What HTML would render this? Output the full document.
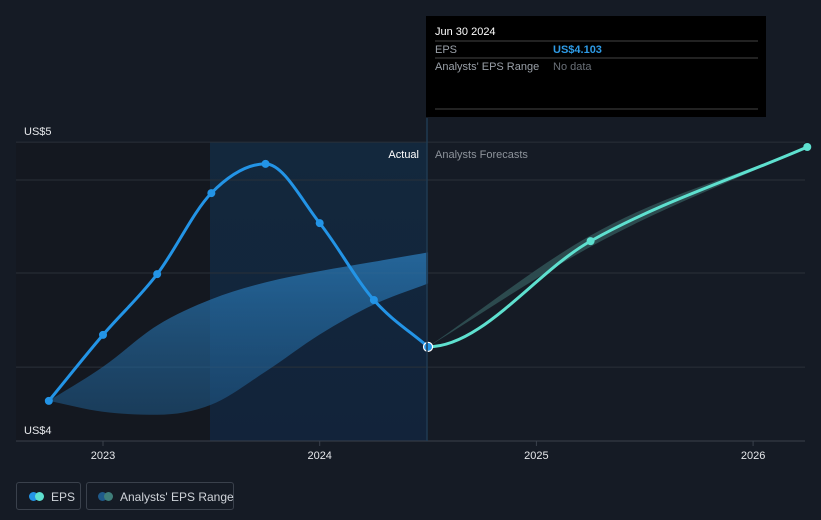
<!DOCTYPE html>
<html><head><meta charset="utf-8"><style>
html,body{margin:0;background:#151b25;width:821px;height:520px;overflow:hidden;font-family:"Liberation Sans",sans-serif}
svg{position:absolute;left:0;top:0}
.leg{position:absolute;top:482px;height:28px;border:1px solid #3a414c;border-radius:3px;color:#d0d4da;font-size:12px;line-height:26px;box-sizing:border-box;white-space:nowrap}
</style></head><body>
<svg width="821" height="520">
<defs>
<linearGradient id="hl" x1="0" y1="0" x2="0" y2="1"><stop offset="0" stop-color="#13283d"/><stop offset="1" stop-color="#12233a"/></linearGradient>
<linearGradient id="band" x1="0" y1="0" x2="0" y2="1"><stop offset="0" stop-color="#2a7ab8" stop-opacity="0.75"/><stop offset="1" stop-color="#1f5a8a" stop-opacity="0.55"/></linearGradient>
</defs>
<rect x="16" y="142" width="194" height="299" fill="#141820"/>
<rect x="210" y="142" width="217" height="299" fill="url(#hl)"/>
<g id="grid"></g>
<g id="marks"></g>
<g id="xaxis"></g>
<text x="24" y="135" fill="#e6e8eb" font-size="11">US$5</text>
<text x="24" y="434" fill="#e6e8eb" font-size="11">US$4</text>
<text x="419" y="158" fill="#ffffff" font-size="11" text-anchor="end">Actual</text>
<text x="435" y="158" fill="#8d939b" font-size="11">Analysts Forecasts</text>
<line x1="427" y1="118" x2="427" y2="441" stroke="#1f3a52" stroke-width="1.5"/>
<g>
<rect x="426" y="16" width="340" height="101" fill="#000"/>
<text x="435" y="35" fill="#fff" font-size="11">Jun 30 2024</text>
<line x1="435" y1="41" x2="758" y2="41" stroke="#444"/>
<text x="435" y="53" fill="#9aa0a8" font-size="11">EPS</text>
<text x="553" y="53" fill="#2e9be6" font-size="11" font-weight="bold">US$4.103</text>
<line x1="435" y1="58" x2="758" y2="58" stroke="#444"/>
<text x="435" y="70" fill="#9aa0a8" font-size="11">Analysts' EPS Range</text>
<text x="553" y="70" fill="#6a7078" font-size="11">No data</text>
<line x1="435" y1="109" x2="758" y2="109" stroke="#444"/>
</g>
</svg>
<div class="leg" style="left:16px;width:65px">
<span style="position:absolute;left:12px;top:9px;width:9px;height:9px;border-radius:50%;background:#2394e6"></span>
<span style="position:absolute;left:18px;top:9px;width:9px;height:9px;border-radius:50%;background:#5ee0cf"></span>
<span style="position:absolute;left:34px;top:1px">EPS</span></div>
<div class="leg" style="left:86px;width:148px">
<span style="position:absolute;left:11px;top:9px;width:9px;height:9px;border-radius:50%;background:#1f5a8a"></span>
<span style="position:absolute;left:17px;top:9px;width:9px;height:9px;border-radius:50%;background:#3f7e7a"></span>
<span style="position:absolute;left:33px;top:1px">Analysts' EPS Range</span></div>
<script>
const actualDates=[2022.75,2023,2023.25,2023.5,2023.75,2024,2024.25,2024.5];
const actualEps=[3.959,4.135,4.297,4.513,4.591,4.433,4.228,4.103];
const forecastDates=[2024.5,2025.25,2026.25];
const forecastEps=[4.103,4.385,4.636];
const rangeDates=[2022.75,2023,2023.25,2023.5,2023.75,2024,2024.25,2024.5];
const rangeHigh=[3.959,4.05,4.16,4.23,4.275,4.305,4.33,4.355];
const rangeLow=[3.959,3.93,3.922,3.949,4.037,4.136,4.216,4.272];
const fRangeDates=[2024.5,2025.25,2026.25];
const fRangeHigh=[4.103,4.40,4.636];
const fRangeLow=[4.103,4.37,4.636];
const gridValues=[4.049,4.30,4.548,4.649];
const xTicks=[2023,2024,2025,2026];
const X=d=>103+(d-2023)*216.7;
const Y=v=>441-(v-3.852)*375;
const NS="http://www.w3.org/2000/svg";
function el(t,a,p){const e=document.createElementNS(NS,t);for(const k in a)e.setAttribute(k,a[k]);document.getElementById(p).appendChild(e);return e;}
function curve(pts,move=true,flatStart=false){
const n=pts.length,s=[],m=[];
for(let i=0;i<n-1;i++)s.push((pts[i+1][1]-pts[i][1])/(pts[i+1][0]-pts[i][0]));
for(let i=0;i<n;i++){
 if(i===0)m.push(flatStart?0:s[0]);
 else if(i===n-1)m.push(s[n-2]);
 else{const a=s[i-1],b=s[i];if(a*b<=0)m.push(0);else{const h0=pts[i][0]-pts[i-1][0],h1=pts[i+1][0]-pts[i][0];m.push((a*h1+b*h0)/(h0+h1));}}
}
let d=(move?"M":"L")+pts[0][0]+","+pts[0][1];
for(let i=0;i<n-1;i++){const h=(pts[i+1][0]-pts[i][0])/3;
d+=" C"+(pts[i][0]+h)+","+(pts[i][1]+m[i]*h)+" "+(pts[i+1][0]-h)+","+(pts[i+1][1]-m[i+1]*h)+" "+pts[i+1][0]+","+pts[i+1][1];}
return d;}
gridValues.forEach(v=>{const l=el("line",{x1:16,x2:805,y1:Y(v),y2:Y(v),stroke:"#2a3039","stroke-width":1},"grid");

});
const ax=el("line",{x1:16,x2:805,y1:441,y2:441,stroke:"#3a414c"},"xaxis");


xTicks.forEach(t=>{el("line",{x1:X(t),x2:X(t),y1:441,y2:446,stroke:"#3a414c"},"xaxis");
const tx=el("text",{x:X(t),y:459,fill:"#e6e8eb","font-size":11,"text-anchor":"middle"},"xaxis");tx.textContent=t;

});
function band(ds,hi,lo,fill,name,flat){const up=ds.map((d,i)=>[X(d),Y(hi[i])]);const dn=ds.map((d,i)=>[X(d),Y(lo[i])]);
const rev=dn.slice().reverse();
const p=el("path",{d:curve(up,true,flat)+" "+curve(rev,false)+"Z",fill:fill},"marks");

}
band(rangeDates,rangeHigh,rangeLow,"url(#band)","analyst-range-past",false);
band(fRangeDates,fRangeHigh,fRangeLow,"#2c4a4e","analyst-range-forecast",false);
const ap=actualDates.map((d,i)=>[X(d),Y(actualEps[i])]);
const a=el("path",{d:curve(ap),fill:"none",stroke:"#2394e6","stroke-width":3},"marks");


const fp=forecastDates.map((d,i)=>[X(d),Y(forecastEps[i])]);
const f=el("path",{d:curve(fp,true,true),fill:"none",stroke:"#5ee0cf","stroke-width":3},"marks");


ap.forEach((p,i)=>{const last=i===ap.length-1;const c=el("circle",{cx:p[0],cy:p[1],r:last?4.5:4,fill:"#2394e6",stroke:last?"#fff":"none","stroke-width":1.2},"marks");

});
fp.slice(1).forEach(p=>{const c=el("circle",{cx:p[0],cy:p[1],r:4,fill:"#5ee0cf"},"marks");

});
</script>
</body></html>
